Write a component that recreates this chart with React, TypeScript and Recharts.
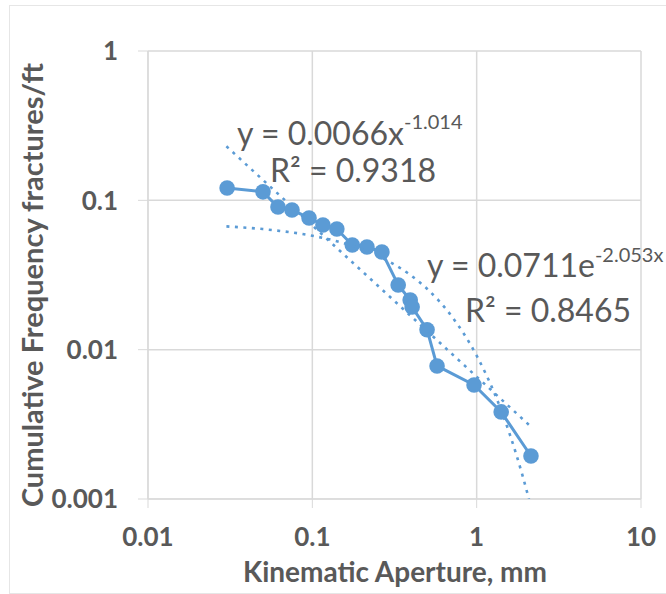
import { ScatterChart, Scatter, XAxis, YAxis, CartesianGrid } from "recharts";

const apertures = [
  0.0303, 0.0501, 0.0618, 0.0752, 0.0955, 0.116, 0.141, 0.175, 0.215, 0.265,
  0.333, 0.394, 0.405, 0.499, 0.574, 0.964, 1.41, 2.14,
];
const frequencies = [
  0.121, 0.114, 0.0902, 0.0861, 0.0762, 0.0684, 0.0643, 0.0502, 0.0487, 0.0451,
  0.0271, 0.0215, 0.0193, 0.0136, 0.00778, 0.0058, 0.00383, 0.00194,
];

// power trendline (straight on log-log)
const powerX = [0.03, 2.14];
const powerY = [0.23, 0.00305];

// exponential trendline
const expX = [0.03, 0.05, 0.1, 0.15, 0.2, 0.3, 0.4, 0.5, 0.7, 1.0, 1.3, 1.6, 1.9, 2.08];
const expY = [
  0.0669, 0.0642, 0.0579, 0.0523, 0.0472, 0.0384, 0.0313, 0.0255, 0.0169,
  0.00912, 0.00493, 0.00266, 0.00144, 0.001,
];

const xTicks = [0.01, 0.1, 1, 10];
const yTicks = [0.001, 0.01, 0.1, 1];

const BLUE = "#5B9BD5";
const GRID = "#d9d9d9";
const TEXT = "#595959";
const FONT = "Lato, 'DejaVu Sans', sans-serif";

const zip = (xs: number[], ys: number[]) => xs.map((x, i) => ({ x, y: ys[i] }));

const mainData = zip(apertures, frequencies);
const powerData = zip(powerX, powerY);
const expData = zip(expX, expY);

const Dot = (props: any) => <circle cx={props.cx} cy={props.cy} r={7.8} fill={BLUE} />;
const NoDot = () => <g />;

const trendLine = { stroke: BLUE, strokeWidth: 2.6, strokeDasharray: "3 5.5" };
const tickStyle = { fill: TEXT, fontSize: 26, fontWeight: 700, fontFamily: FONT };

export default function App() {
  return (
    <div style={{ position: "absolute", left: 0, top: 0, width: 666, height: 594, background: "#fff", overflow: "hidden" }}>
      <div
        style={{
          position: "absolute",
          left: 9,
          top: 5,
          width: 680,
          height: 587,
          border: "1px solid #e6e6e6",
        }}
      />
      <ScatterChart width={666} height={594} margin={{ top: 51, right: 25, left: 0, bottom: 0 }}>
        <CartesianGrid stroke={GRID} strokeWidth={1.5} />
        <XAxis
          dataKey="x"
          type="number"
          scale="log"
          domain={[0.01, 10]}
          ticks={xTicks}
          allowDataOverflow
          height={95}
          tickSize={9}
          tickMargin={20}
          stroke={GRID}
          tick={tickStyle}
          tickFormatter={(v: number) => String(v)}
        />
        <YAxis
          dataKey="y"
          type="number"
          scale="log"
          domain={[0.001, 1]}
          ticks={yTicks}
          allowDataOverflow
          width={148}
          tickSize={10}
          tickMargin={20}
          stroke={GRID}
          tick={tickStyle}
          tickFormatter={(v: number) => String(v)}
        />
        <Scatter
          data={mainData}
          fill={BLUE}
          line={{ stroke: BLUE, strokeWidth: 3 }}
          shape={Dot}
          isAnimationActive={false}
        />
        <Scatter data={powerData} line={trendLine} shape={NoDot} isAnimationActive={false} />
        <Scatter
          data={expData}
          line={trendLine}
          lineJointType="monotoneX"
          shape={NoDot}
          isAnimationActive={false}
        />
      </ScatterChart>
      <svg
        width={666}
        height={594}
        style={{ position: "absolute", left: 0, top: 0, pointerEvents: "none" }}
        fontFamily={FONT}
        fill={TEXT}
      >
        <text x={237} y={145} fontSize={32}>
          y = 0.0066x
          <tspan dy={-16} fontSize={20}>-1.014</tspan>
        </text>
        <text x={270} y={182} fontSize={32}>
          R² = 0.9318
        </text>
        <text x={427} y={277} fontSize={32}>
          y = 0.0711e
          <tspan dy={-15} fontSize={20}>-2.053x</tspan>
        </text>
        <text x={465} y={322} fontSize={32}>
          R² = 0.8465
        </text>
        <text x={395} y={582} fontSize={28} fontWeight={700} textAnchor="middle">
          Kinematic Aperture, mm
        </text>
        <text
          transform="translate(43,285) rotate(-90)"
          fontSize={29}
          fontWeight={700}
          textAnchor="middle"
        >
          Cumulative Frequency fractures/ft
        </text>
      </svg>
    </div>
  );
}
